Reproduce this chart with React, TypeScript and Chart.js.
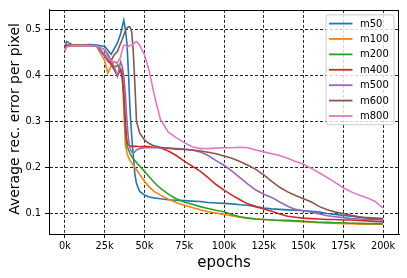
import React, { useEffect, useRef } from "react";
import { Chart, registerables } from "chart.js";

Chart.register(...registerables);

// epochs in thousands
const EPOCHS_K = [
  0, 1, 5, 10, 15, 20, 25, 27, 29, 31, 33, 35, 36, 37, 38, 39, 40, 41, 42, 43, 44, 45, 47, 50, 53, 56, 60,
  65, 70, 75, 80, 85, 90, 95, 100, 105, 110, 115, 120, 125, 130, 135, 140, 145, 150, 155, 160, 165, 170,
  175, 180, 185, 190, 195, 200,
];

const M50 = [
  0.458, 0.474, 0.466, 0.466, 0.467, 0.466, 0.463, 0.455, 0.446, 0.458, 0.47, 0.49, 0.505, 0.52, 0.5, 0.47,
  0.4, 0.32, 0.268, 0.225, 0.185, 0.165, 0.148, 0.14, 0.136, 0.134, 0.132, 0.13, 0.129, 0.128, 0.127, 0.126,
  0.124, 0.123, 0.122, 0.121, 0.119, 0.118, 0.115, 0.112, 0.11, 0.109, 0.108, 0.107, 0.106, 0.105, 0.103,
  0.1, 0.098, 0.096, 0.094, 0.092, 0.091, 0.09, 0.089,
];
const M100 = [
  0.465, 0.466, 0.465, 0.466, 0.465, 0.463, 0.432, 0.405, 0.42, 0.43, 0.425, 0.415, 0.41, 0.33, 0.25, 0.232,
  0.222, 0.215, 0.21, 0.205, 0.2, 0.195, 0.185, 0.17, 0.158, 0.148, 0.14, 0.131, 0.124, 0.118, 0.113, 0.108,
  0.104, 0.101, 0.098, 0.095, 0.092, 0.09, 0.088, 0.087, 0.086, 0.085, 0.084, 0.083, 0.082, 0.081, 0.08,
  0.079, 0.079, 0.078, 0.078, 0.077, 0.077, 0.077, 0.077,
];
const M200 = [
  0.465, 0.465, 0.465, 0.466, 0.465, 0.464, 0.445, 0.432, 0.425, 0.418, 0.422, 0.41, 0.405, 0.36, 0.28, 0.248,
  0.238, 0.23, 0.224, 0.219, 0.215, 0.211, 0.203, 0.192, 0.18, 0.168, 0.155, 0.142, 0.132, 0.125, 0.12,
  0.115, 0.111, 0.107, 0.104, 0.098, 0.093, 0.09, 0.088, 0.087, 0.086, 0.085, 0.085, 0.084, 0.083, 0.082,
  0.081, 0.081, 0.08, 0.08, 0.079, 0.079, 0.078, 0.078, 0.078,
];
const M400 = [
  0.465, 0.465, 0.465, 0.466, 0.465, 0.464, 0.442, 0.432, 0.425, 0.412, 0.4, 0.412, 0.395, 0.36, 0.3, 0.256,
  0.248, 0.247, 0.246, 0.246, 0.246, 0.246, 0.245, 0.246, 0.245, 0.244, 0.243, 0.236, 0.226, 0.214, 0.203,
  0.192, 0.178, 0.163, 0.151, 0.14, 0.13, 0.121, 0.115, 0.11, 0.105, 0.099, 0.094, 0.092, 0.09, 0.089, 0.088,
  0.087, 0.087, 0.086, 0.086, 0.085, 0.084, 0.083, 0.082,
];
const M500 = [
  0.465, 0.465, 0.465, 0.466, 0.465, 0.464, 0.442, 0.436, 0.43, 0.42, 0.398, 0.43, 0.42, 0.4, 0.36, 0.3, 0.26,
  0.24, 0.234, 0.232, 0.234, 0.238, 0.241, 0.243, 0.243, 0.243, 0.243, 0.242, 0.241, 0.24, 0.238, 0.234,
  0.226, 0.215, 0.205, 0.192, 0.178, 0.164, 0.151, 0.142, 0.135, 0.125, 0.116, 0.109, 0.106, 0.103, 0.099,
  0.095, 0.093, 0.091, 0.089, 0.088, 0.087, 0.087, 0.086,
];
const M600 = [
  0.465, 0.465, 0.465, 0.466, 0.465, 0.464, 0.456, 0.446, 0.432, 0.445, 0.452, 0.47, 0.478, 0.488, 0.497,
  0.503, 0.506, 0.505, 0.495, 0.45, 0.38, 0.3, 0.275, 0.26, 0.252, 0.247, 0.244, 0.242, 0.24, 0.239, 0.238,
  0.236, 0.233, 0.23, 0.225, 0.22, 0.213, 0.205, 0.196, 0.184, 0.17, 0.157, 0.147, 0.139, 0.132, 0.125, 0.115,
  0.108, 0.103, 0.1, 0.096, 0.093, 0.09, 0.089, 0.088,
];
const M800 = [
  0.452, 0.462, 0.465, 0.465, 0.465, 0.464, 0.455, 0.44, 0.432, 0.43, 0.428, 0.44, 0.455, 0.465, 0.466, 0.462,
  0.463, 0.466, 0.465, 0.468, 0.472, 0.474, 0.466, 0.445, 0.41, 0.36, 0.305, 0.277, 0.265, 0.254, 0.245,
  0.241, 0.241, 0.242, 0.243, 0.243, 0.244, 0.243, 0.238, 0.234, 0.23, 0.226, 0.22, 0.213, 0.207, 0.198,
  0.188, 0.178, 0.167, 0.156, 0.147, 0.14, 0.134, 0.126, 0.112,
];

const SERIES_NAMES = ["m50", "m100", "m200", "m400", "m500", "m600", "m800"];
const SERIES_VALUES = [M50, M100, M200, M400, M500, M600, M800];
const COLORS = ["#1f77b4", "#ff7f0e", "#2ca02c", "#d62728", "#9467bd", "#8c564b", "#e377c2"];
const X_TICKS = [0, 25, 50, 75, 100, 125, 150, 175, 200];
const Y_TICKS = [0.1, 0.2, 0.3, 0.4, 0.5];
const X_TITLE = "epochs";
const Y_TITLE = "Average rec. error per pixel";

const FONT = '"DejaVu Sans", "Liberation Sans", sans-serif';

const decorPlugin = {
  id: "decor",
  afterDatasetsDraw(chart: any) {
    const { ctx, chartArea } = chart;
    const { left, right, top, bottom } = chartArea;
    ctx.save();
    // frame
    ctx.strokeStyle = "#000";
    ctx.lineWidth = 1;
    ctx.setLineDash([]);
    ctx.strokeRect(Math.round(left) + 0.5, Math.round(top) + 0.5, Math.round(right - left) - 1, Math.round(bottom - top));

    // axis titles
    ctx.fillStyle = "#000";
    ctx.font = `15px ${FONT}`;
    ctx.textAlign = "center";
    ctx.textBaseline = "alphabetic";
    ctx.fillText(X_TITLE, (left + right) / 2, 266.5);
    ctx.font = `14px ${FONT}`;
    ctx.save();
    ctx.translate(18.5, (top + bottom) / 2 - 3);
    ctx.rotate(-Math.PI / 2);
    ctx.fillText(Y_TITLE, 0, 0);
    ctx.restore();

    // legend
    const datasets = chart.data.datasets;
    const w = 68;
    const rowH = 15.4;
    const h = rowH * datasets.length + 2;
    const x0 = right - 5 - w;
    const y0 = top + 5;
    ctx.beginPath();
    const r = 3;
    ctx.moveTo(x0 + r, y0);
    ctx.lineTo(x0 + w - r, y0);
    ctx.quadraticCurveTo(x0 + w, y0, x0 + w, y0 + r);
    ctx.lineTo(x0 + w, y0 + h - r);
    ctx.quadraticCurveTo(x0 + w, y0 + h, x0 + w - r, y0 + h);
    ctx.lineTo(x0 + r, y0 + h);
    ctx.quadraticCurveTo(x0, y0 + h, x0, y0 + h - r);
    ctx.lineTo(x0, y0 + r);
    ctx.quadraticCurveTo(x0, y0, x0 + r, y0);
    ctx.closePath();
    ctx.fillStyle = "rgba(255,255,255,0.8)";
    ctx.fill();
    ctx.strokeStyle = "#cccccc";
    ctx.lineWidth = 1;
    ctx.stroke();

    ctx.font = `10px ${FONT}`;
    ctx.textAlign = "left";
    ctx.textBaseline = "middle";
    datasets.forEach((ds: any, i: number) => {
      const y = y0 + 8.7 + i * rowH;
      ctx.strokeStyle = ds.borderColor;
      ctx.lineWidth = 1.8;
      ctx.beginPath();
      ctx.moveTo(x0 + 3, y);
      ctx.lineTo(x0 + 26.5, y);
      ctx.stroke();
      ctx.fillStyle = "#000";
      ctx.fillText(ds.label, x0 + 34, y + 0.5);
    });
    ctx.restore();
  },
};

export default function App() {
  const canvasRef = useRef<HTMLCanvasElement | null>(null);

  useEffect(() => {
    document.body.style.margin = "0";
    const canvas = canvasRef.current;
    if (!canvas) return;
    const datasets = SERIES_NAMES.map((name, i) => ({
      label: name,
      data: EPOCHS_K.map((x, j) => ({ x, y: SERIES_VALUES[i][j] })),
      borderColor: COLORS[i],
      backgroundColor: COLORS[i],
      borderWidth: 1.6,
      pointRadius: 0,
      tension: 0,
      fill: false,
      order: SERIES_NAMES.length - i,
    }));
    const chart = new Chart(canvas, {
      type: "line",
      data: { datasets },
      options: {
        animation: false,
        responsive: false,
        devicePixelRatio: 1,
        layout: { padding: { top: 7, right: 8, left: 0, bottom: 0 } },
        plugins: { legend: { display: false }, tooltip: { enabled: false } },
        scales: {
          x: {
            type: "linear",
            min: -10,
            max: 210,
            afterBuildTicks: (scale: any) => {
              scale.ticks = X_TICKS.map((v) => ({ value: v }));
            },
            afterFit: (scale: any) => {
              scale.height = 44;
            },
            ticks: {
              color: "#000",
              font: { family: FONT, size: 9.8 },
              padding: 3,
              maxRotation: 0,
              autoSkip: false,
              callback: (v: any) => `${v}k`,
            },
            grid: {
              color: "rgba(0,0,0,0.85)",
              lineWidth: 1,
              tickLength: 4,
              tickColor: "#000",
              tickBorderDash: [],
            },
            border: { display: true, color: "#000", width: 1, dash: [3, 2] },
          },
          y: {
            type: "linear",
            min: 0.0555,
            max: 0.5425,
            afterBuildTicks: (scale: any) => {
              scale.ticks = Y_TICKS.map((v) => ({ value: v }));
            },
            afterFit: (scale: any) => {
              scale.width = 49;
            },
            ticks: {
              color: "#000",
              font: { family: FONT, size: 9.8 },
              padding: 4,
              autoSkip: false,
              callback: (v: any) => Number(v).toFixed(1),
            },
            grid: {
              color: "rgba(0,0,0,0.85)",
              lineWidth: 1,
              tickLength: 4,
              tickColor: "#000",
              tickBorderDash: [],
            },
            border: { display: true, color: "#000", width: 1, dash: [3, 2] },
          },
        },
      },
      plugins: [decorPlugin],
    } as any);
    return () => chart.destroy();
  }, []);

  return (
    <div style={{ position: "absolute", left: 0, top: 0, width: 407, height: 278 }}>
      <canvas ref={canvasRef} width={407} height={278} style={{ display: "block", width: 407, height: 278 }} />
    </div>
  );
}
